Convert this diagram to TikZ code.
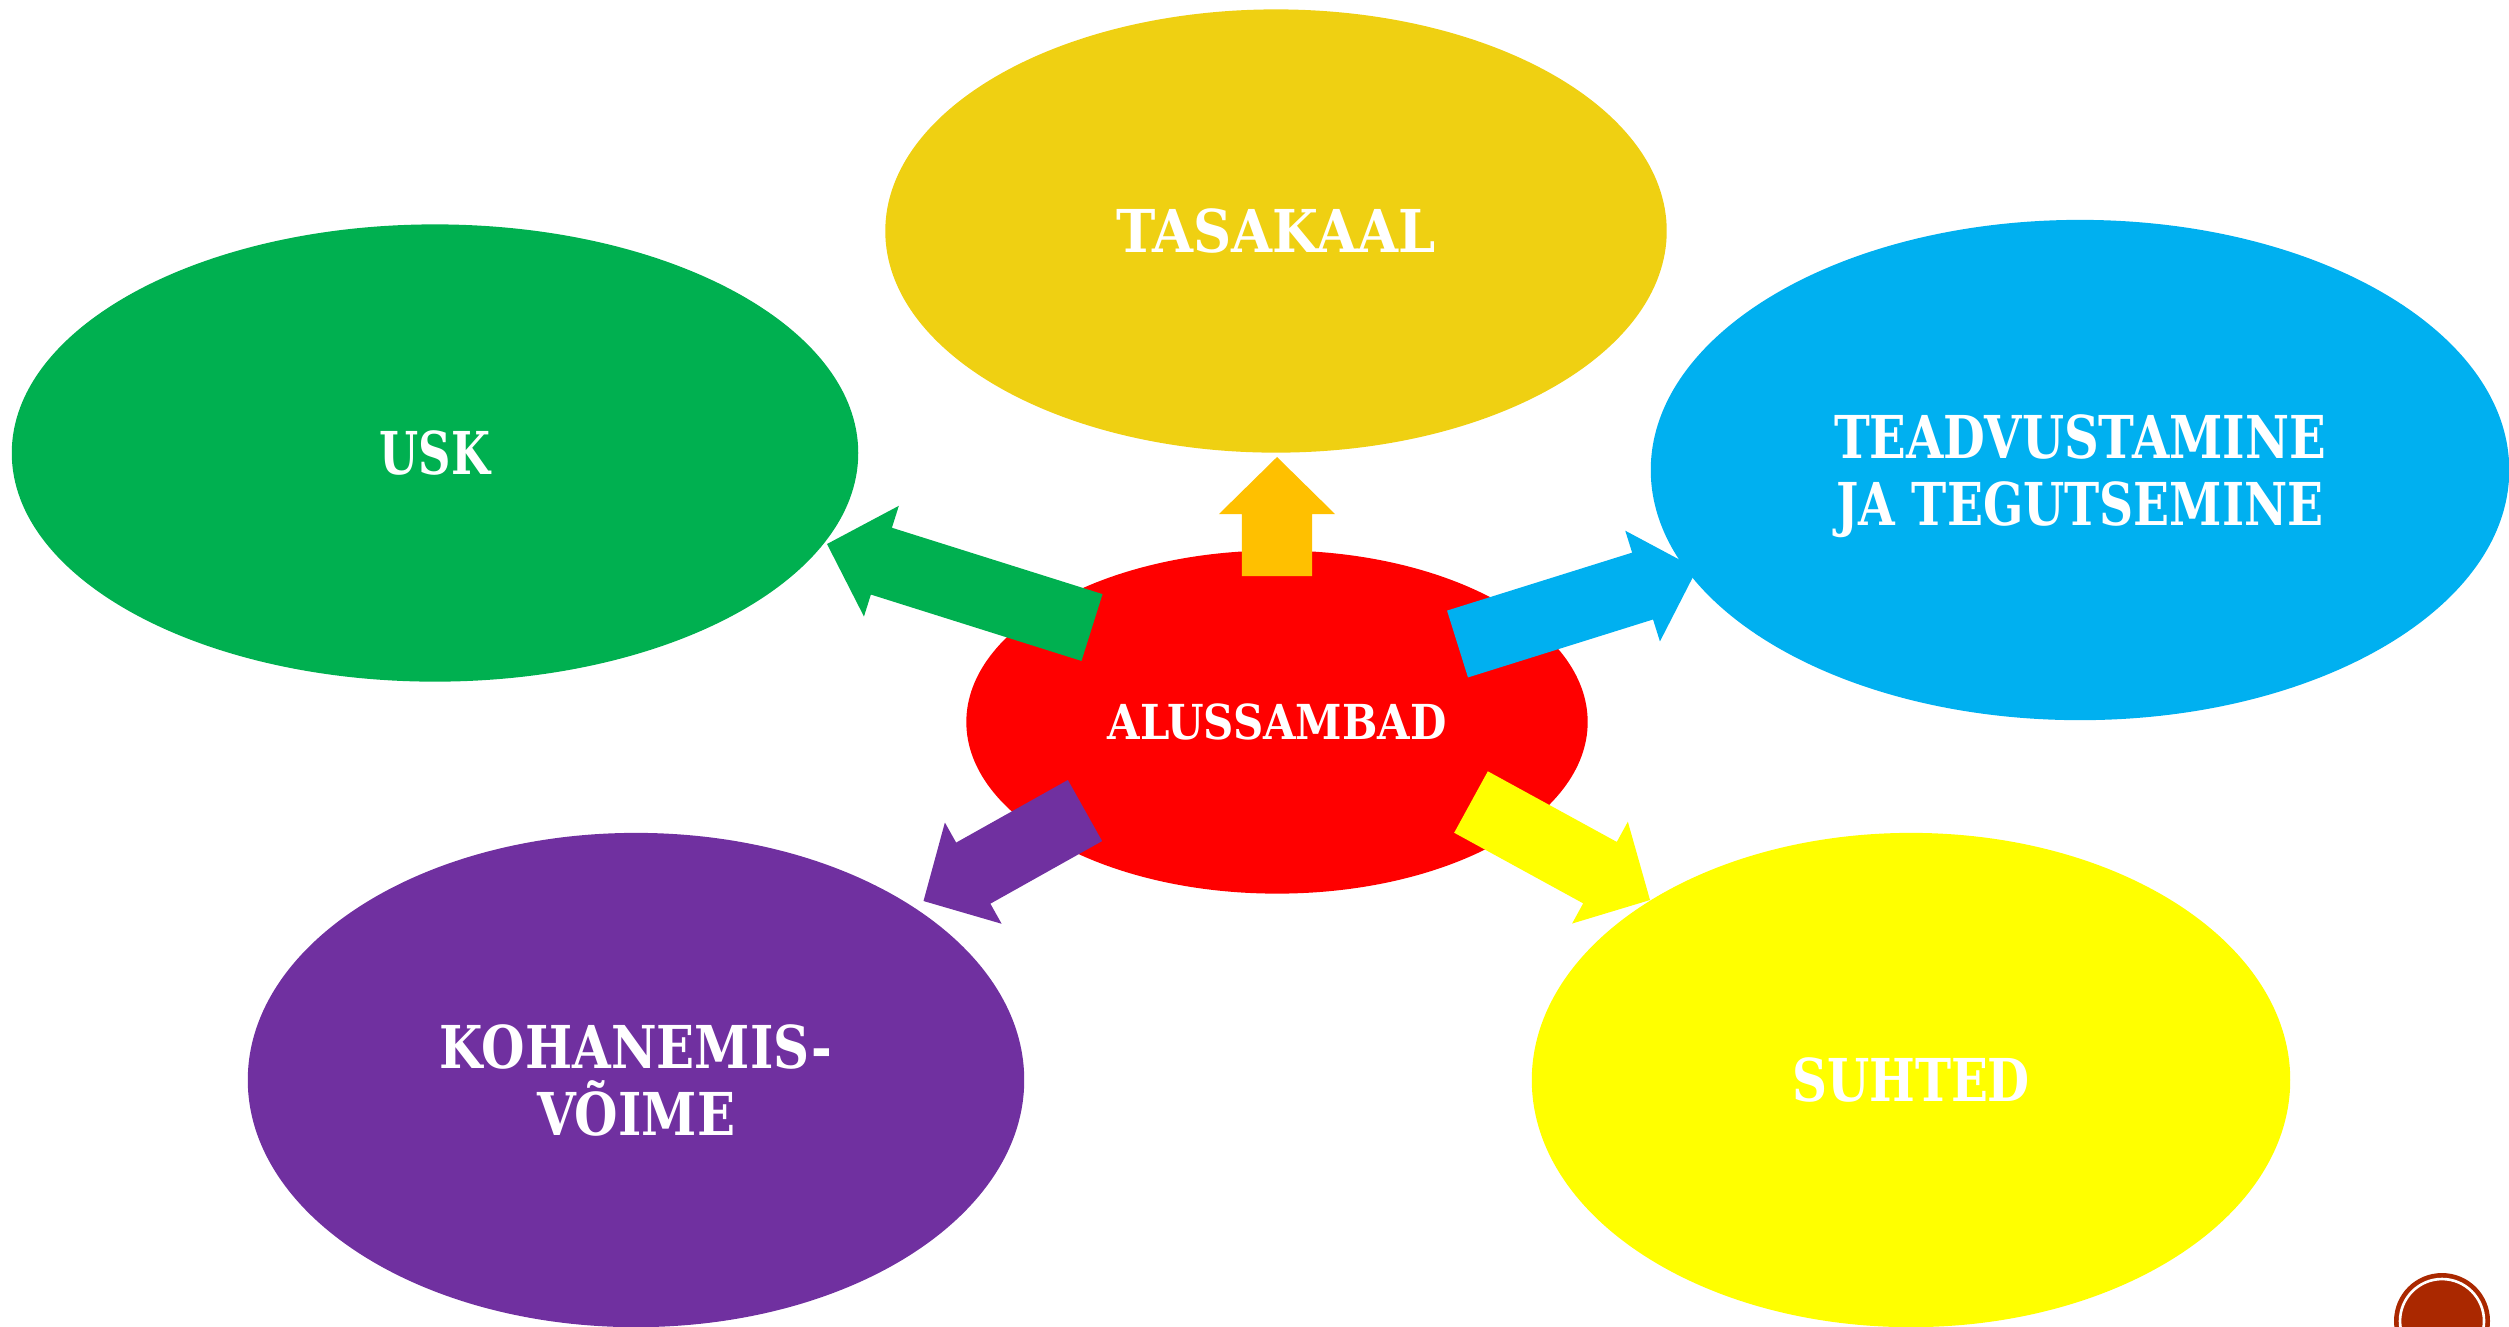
\documentclass[tikz,border=0pt]{standalone}
\usepackage{fontspec}
\setmainfont{DejaVu Serif}
\usetikzlibrary{shapes.geometric,calc}
\definecolor{tasCol}{RGB}{239,208,18}
\definecolor{goldCol}{RGB}{255,192,0}
\definecolor{greenCol}{RGB}{0,176,80}
\definecolor{blueCol}{RGB}{0,176,240}
\definecolor{redCol}{RGB}{255,0,0}
\definecolor{purpleCol}{RGB}{112,48,160}
\definecolor{yelCol}{RGB}{255,255,0}
\definecolor{logoCol}{RGB}{170,40,0}
\tikzset{
  pillar/.style={ellipse, inner sep=0pt, text=white, align=center,
    font=\fontsize{16.8pt}{19.06pt}\selectfont\bfseries},
}
\newcommand\sx[2]{\scalebox{#1}[1]{#2}}
% block arrow: colour, tail coordinate, tip coordinate
\newcommand\blockarr[3]{%
  \fill[#1]
    ($(#2)!0.35cm!90:(#3)$) --
    ($($(#3)!0.57cm!(#2)$)!0.35cm!90:(#3)$) --
    ($($(#3)!0.57cm!(#2)$)!0.58cm!90:(#3)$) --
    (#3) --
    ($($(#3)!0.57cm!(#2)$)!0.58cm!-90:(#3)$) --
    ($($(#3)!0.57cm!(#2)$)!0.35cm!-90:(#3)$) --
    ($(#2)!0.35cm!-90:(#3)$) -- cycle;}
\begin{document}
\begin{tikzpicture}[x=0.01cm,y=-0.01cm]
\useasboundingbox (0,0) rectangle (2509,1326);
% ellipses
\node[pillar, fill=tasCol, minimum width=7.81cm, minimum height=4.43cm] (tas) at (1276,231) {\sx{0.895}{TASAKAAL}};
\node[pillar, fill=greenCol, minimum width=8.46cm, minimum height=4.57cm] (usk) at (435,453) {\sx{0.76}{USK}};
\node[pillar, fill=blueCol, minimum width=8.58cm, minimum height=5.0cm, text depth=0pt] (tead) at (2080,470) {\sx{0.815}{TEADVUSTAMINE}\\\sx{0.80}{JA TEGUTSEMINE}};
\node[pillar, fill=redCol, minimum width=6.21cm, minimum height=3.43cm,
      font=\fontsize{13.7pt}{16pt}\selectfont\bfseries] (alus) at (1277,722) {\sx{0.87}{ALUSSAMBAD}};
\node[pillar, fill=purpleCol, minimum width=7.76cm, minimum height=4.94cm] (koh) at (636,1080) {\sx{0.845}{KOHANEMIS-}\\\sx{0.845}{VÕIME}};
\node[pillar, fill=yelCol, minimum width=7.58cm, minimum height=4.94cm] (suh) at (1911,1080) {\sx{0.82}{SUHTED}};
% arrows
\coordinate (upT) at (1277,576);   \coordinate (upP) at (1277,457);
\coordinate (grT) at (1092,627.5); \coordinate (grP) at (827,544);
\coordinate (blT) at (1457.5,644); \coordinate (blP) at (1697,569);
\coordinate (yeT) at (1471,802);   \coordinate (yeP) at (1650,900);
\coordinate (puT) at (1085,810.5); \coordinate (puP) at (923.5,901);
\blockarr{goldCol}{upT}{upP}
\blockarr{greenCol}{grT}{grP}
\blockarr{blueCol}{blT}{blP}
\blockarr{yelCol}{yeT}{yeP}
\blockarr{purpleCol}{puT}{puP}
% logo
\begin{scope}
\clip (0,0) rectangle (2509,1326);
\fill[logoCol] (2442,1321) circle[radius=48];
\draw[white, line width=0.75pt] (2442,1321) circle[radius=42];
\end{scope}
\end{tikzpicture}
\end{document}
